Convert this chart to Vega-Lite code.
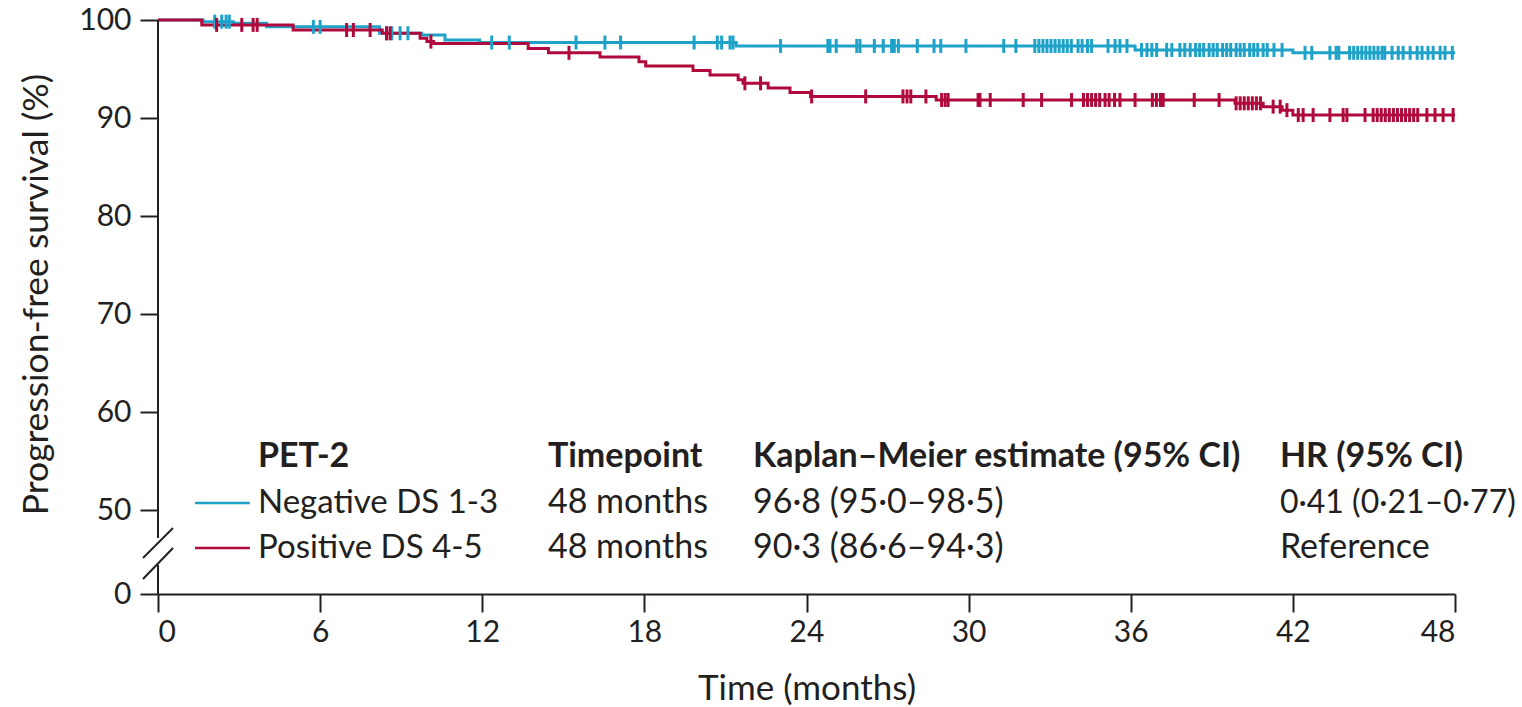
{
  "$schema": "https://vega.github.io/schema/vega-lite/v6.json",
  "autosize": {"type": "none"},
  "padding": {"left": 158, "top": 20, "right": 67, "bottom": 113},
  "width": 1297,
  "height": 574,
  "background": "white",
  "config": {
    "view": {"stroke": null},
    "font": "Lato",
    "text": {"font": "Lato", "color": "#231f20", "fontSize": 34, "align": "left", "baseline": "alphabetic"},
    "axis": {"grid": false, "labelFont": "Lato", "titleFont": "Lato", "labelColor": "#231f20", "titleColor": "#231f20", "tickColor": "#231f20", "domainColor": "#231f20", "tickWidth": 2, "domainWidth": 2}
  },
  "datasets": {
    "curve": [
      {"group": "Negative DS 1-3", "month": 0, "pfs": 100},
      {"group": "Negative DS 1-3", "month": 1.67, "pfs": 99.83},
      {"group": "Negative DS 1-3", "month": 2.79, "pfs": 99.66},
      {"group": "Negative DS 1-3", "month": 4.02, "pfs": 99.3},
      {"group": "Negative DS 1-3", "month": 8.2, "pfs": 98.65},
      {"group": "Negative DS 1-3", "month": 9.76, "pfs": 98.47},
      {"group": "Negative DS 1-3", "month": 10.62, "pfs": 97.96},
      {"group": "Negative DS 1-3", "month": 11.9, "pfs": 97.7},
      {"group": "Negative DS 1-3", "month": 21.4, "pfs": 97.35},
      {"group": "Negative DS 1-3", "month": 36.16, "pfs": 96.94},
      {"group": "Negative DS 1-3", "month": 42.0, "pfs": 96.65},
      {"group": "Negative DS 1-3", "month": 48, "pfs": 96.65},
      {"group": "Positive DS 4-5", "month": 0, "pfs": 100},
      {"group": "Positive DS 4-5", "month": 1.62, "pfs": 99.5},
      {"group": "Positive DS 4-5", "month": 5.0, "pfs": 98.98},
      {"group": "Positive DS 4-5", "month": 8.3, "pfs": 98.64},
      {"group": "Positive DS 4-5", "month": 9.7, "pfs": 98.13},
      {"group": "Positive DS 4-5", "month": 9.95, "pfs": 97.8},
      {"group": "Positive DS 4-5", "month": 10.2, "pfs": 97.6},
      {"group": "Positive DS 4-5", "month": 13.7, "pfs": 97.1},
      {"group": "Positive DS 4-5", "month": 14.45, "pfs": 96.65},
      {"group": "Positive DS 4-5", "month": 16.36, "pfs": 96.22},
      {"group": "Positive DS 4-5", "month": 17.8, "pfs": 95.75},
      {"group": "Positive DS 4-5", "month": 18.05, "pfs": 95.3},
      {"group": "Positive DS 4-5", "month": 19.8, "pfs": 94.85},
      {"group": "Positive DS 4-5", "month": 20.43, "pfs": 94.4},
      {"group": "Positive DS 4-5", "month": 21.47, "pfs": 93.9},
      {"group": "Positive DS 4-5", "month": 21.65, "pfs": 93.54},
      {"group": "Positive DS 4-5", "month": 22.58, "pfs": 93.05},
      {"group": "Positive DS 4-5", "month": 23.39, "pfs": 92.6},
      {"group": "Positive DS 4-5", "month": 24.15, "pfs": 92.2},
      {"group": "Positive DS 4-5", "month": 28.8, "pfs": 91.84},
      {"group": "Positive DS 4-5", "month": 39.86, "pfs": 91.5},
      {"group": "Positive DS 4-5", "month": 40.9, "pfs": 91.16},
      {"group": "Positive DS 4-5", "month": 41.6, "pfs": 90.8},
      {"group": "Positive DS 4-5", "month": 42.0, "pfs": 90.3},
      {"group": "Positive DS 4-5", "month": 48, "pfs": 90.3}
    ],
    "censor": [
      {"group": "Negative DS 1-3", "month": 2.1, "pfs": 99.83},
      {"group": "Negative DS 1-3", "month": 2.36, "pfs": 99.83},
      {"group": "Negative DS 1-3", "month": 2.52, "pfs": 99.83},
      {"group": "Negative DS 1-3", "month": 2.64, "pfs": 99.83},
      {"group": "Negative DS 1-3", "month": 5.75, "pfs": 99.3},
      {"group": "Negative DS 1-3", "month": 6.0, "pfs": 99.3},
      {"group": "Negative DS 1-3", "month": 8.46, "pfs": 98.65},
      {"group": "Negative DS 1-3", "month": 8.65, "pfs": 98.65},
      {"group": "Negative DS 1-3", "month": 8.96, "pfs": 98.65},
      {"group": "Negative DS 1-3", "month": 9.25, "pfs": 98.65},
      {"group": "Negative DS 1-3", "month": 12.35, "pfs": 97.7},
      {"group": "Negative DS 1-3", "month": 13.0, "pfs": 97.7},
      {"group": "Negative DS 1-3", "month": 15.47, "pfs": 97.7},
      {"group": "Negative DS 1-3", "month": 16.54, "pfs": 97.7},
      {"group": "Negative DS 1-3", "month": 17.12, "pfs": 97.7},
      {"group": "Negative DS 1-3", "month": 19.84, "pfs": 97.7},
      {"group": "Negative DS 1-3", "month": 20.7, "pfs": 97.7},
      {"group": "Negative DS 1-3", "month": 20.86, "pfs": 97.7},
      {"group": "Negative DS 1-3", "month": 21.17, "pfs": 97.7},
      {"group": "Negative DS 1-3", "month": 21.28, "pfs": 97.7},
      {"group": "Negative DS 1-3", "month": 23.04, "pfs": 97.35},
      {"group": "Negative DS 1-3", "month": 24.79, "pfs": 97.35},
      {"group": "Negative DS 1-3", "month": 24.87, "pfs": 97.35},
      {"group": "Negative DS 1-3", "month": 25.1, "pfs": 97.35},
      {"group": "Negative DS 1-3", "month": 25.86, "pfs": 97.35},
      {"group": "Negative DS 1-3", "month": 25.98, "pfs": 97.35},
      {"group": "Negative DS 1-3", "month": 26.51, "pfs": 97.35},
      {"group": "Negative DS 1-3", "month": 26.84, "pfs": 97.35},
      {"group": "Negative DS 1-3", "month": 27.15, "pfs": 97.35},
      {"group": "Negative DS 1-3", "month": 27.25, "pfs": 97.35},
      {"group": "Negative DS 1-3", "month": 27.4, "pfs": 97.35},
      {"group": "Negative DS 1-3", "month": 28.1, "pfs": 97.35},
      {"group": "Negative DS 1-3", "month": 28.72, "pfs": 97.35},
      {"group": "Negative DS 1-3", "month": 28.97, "pfs": 97.35},
      {"group": "Negative DS 1-3", "month": 29.9, "pfs": 97.35},
      {"group": "Negative DS 1-3", "month": 31.3, "pfs": 97.35},
      {"group": "Negative DS 1-3", "month": 31.75, "pfs": 97.35},
      {"group": "Negative DS 1-3", "month": 32.45, "pfs": 97.35},
      {"group": "Negative DS 1-3", "month": 32.6, "pfs": 97.35},
      {"group": "Negative DS 1-3", "month": 32.75, "pfs": 97.35},
      {"group": "Negative DS 1-3", "month": 32.9, "pfs": 97.35},
      {"group": "Negative DS 1-3", "month": 33.05, "pfs": 97.35},
      {"group": "Negative DS 1-3", "month": 33.2, "pfs": 97.35},
      {"group": "Negative DS 1-3", "month": 33.35, "pfs": 97.35},
      {"group": "Negative DS 1-3", "month": 33.5, "pfs": 97.35},
      {"group": "Negative DS 1-3", "month": 33.65, "pfs": 97.35},
      {"group": "Negative DS 1-3", "month": 33.8, "pfs": 97.35},
      {"group": "Negative DS 1-3", "month": 34.05, "pfs": 97.35},
      {"group": "Negative DS 1-3", "month": 34.2, "pfs": 97.35},
      {"group": "Negative DS 1-3", "month": 34.4, "pfs": 97.35},
      {"group": "Negative DS 1-3", "month": 34.55, "pfs": 97.35},
      {"group": "Negative DS 1-3", "month": 35.16, "pfs": 97.35},
      {"group": "Negative DS 1-3", "month": 35.42, "pfs": 97.35},
      {"group": "Negative DS 1-3", "month": 35.6, "pfs": 97.35},
      {"group": "Negative DS 1-3", "month": 35.86, "pfs": 97.35},
      {"group": "Negative DS 1-3", "month": 36.4, "pfs": 96.94},
      {"group": "Negative DS 1-3", "month": 36.6, "pfs": 96.94},
      {"group": "Negative DS 1-3", "month": 36.78, "pfs": 96.94},
      {"group": "Negative DS 1-3", "month": 36.96, "pfs": 96.94},
      {"group": "Negative DS 1-3", "month": 37.33, "pfs": 96.94},
      {"group": "Negative DS 1-3", "month": 37.52, "pfs": 96.94},
      {"group": "Negative DS 1-3", "month": 37.82, "pfs": 96.94},
      {"group": "Negative DS 1-3", "month": 38.0, "pfs": 96.94},
      {"group": "Negative DS 1-3", "month": 38.2, "pfs": 96.94},
      {"group": "Negative DS 1-3", "month": 38.4, "pfs": 96.94},
      {"group": "Negative DS 1-3", "month": 38.55, "pfs": 96.94},
      {"group": "Negative DS 1-3", "month": 38.7, "pfs": 96.94},
      {"group": "Negative DS 1-3", "month": 38.9, "pfs": 96.94},
      {"group": "Negative DS 1-3", "month": 39.05, "pfs": 96.94},
      {"group": "Negative DS 1-3", "month": 39.2, "pfs": 96.94},
      {"group": "Negative DS 1-3", "month": 39.4, "pfs": 96.94},
      {"group": "Negative DS 1-3", "month": 39.55, "pfs": 96.94},
      {"group": "Negative DS 1-3", "month": 39.7, "pfs": 96.94},
      {"group": "Negative DS 1-3", "month": 39.9, "pfs": 96.94},
      {"group": "Negative DS 1-3", "month": 40.05, "pfs": 96.94},
      {"group": "Negative DS 1-3", "month": 40.2, "pfs": 96.94},
      {"group": "Negative DS 1-3", "month": 40.4, "pfs": 96.94},
      {"group": "Negative DS 1-3", "month": 40.55, "pfs": 96.94},
      {"group": "Negative DS 1-3", "month": 40.7, "pfs": 96.94},
      {"group": "Negative DS 1-3", "month": 40.9, "pfs": 96.94},
      {"group": "Negative DS 1-3", "month": 41.05, "pfs": 96.94},
      {"group": "Negative DS 1-3", "month": 41.3, "pfs": 96.94},
      {"group": "Negative DS 1-3", "month": 41.6, "pfs": 96.94},
      {"group": "Negative DS 1-3", "month": 42.45, "pfs": 96.65},
      {"group": "Negative DS 1-3", "month": 42.7, "pfs": 96.65},
      {"group": "Negative DS 1-3", "month": 43.37, "pfs": 96.65},
      {"group": "Negative DS 1-3", "month": 43.6, "pfs": 96.65},
      {"group": "Negative DS 1-3", "month": 43.7, "pfs": 96.65},
      {"group": "Negative DS 1-3", "month": 44.1, "pfs": 96.65},
      {"group": "Negative DS 1-3", "month": 44.25, "pfs": 96.65},
      {"group": "Negative DS 1-3", "month": 44.4, "pfs": 96.65},
      {"group": "Negative DS 1-3", "month": 44.55, "pfs": 96.65},
      {"group": "Negative DS 1-3", "month": 44.7, "pfs": 96.65},
      {"group": "Negative DS 1-3", "month": 44.85, "pfs": 96.65},
      {"group": "Negative DS 1-3", "month": 45.0, "pfs": 96.65},
      {"group": "Negative DS 1-3", "month": 45.15, "pfs": 96.65},
      {"group": "Negative DS 1-3", "month": 45.3, "pfs": 96.65},
      {"group": "Negative DS 1-3", "month": 45.4, "pfs": 96.65},
      {"group": "Negative DS 1-3", "month": 45.67, "pfs": 96.65},
      {"group": "Negative DS 1-3", "month": 45.9, "pfs": 96.65},
      {"group": "Negative DS 1-3", "month": 46.08, "pfs": 96.65},
      {"group": "Negative DS 1-3", "month": 46.34, "pfs": 96.65},
      {"group": "Negative DS 1-3", "month": 46.6, "pfs": 96.65},
      {"group": "Negative DS 1-3", "month": 46.78, "pfs": 96.65},
      {"group": "Negative DS 1-3", "month": 47.0, "pfs": 96.65},
      {"group": "Negative DS 1-3", "month": 47.19, "pfs": 96.65},
      {"group": "Negative DS 1-3", "month": 47.45, "pfs": 96.65},
      {"group": "Negative DS 1-3", "month": 47.63, "pfs": 96.65},
      {"group": "Negative DS 1-3", "month": 47.9, "pfs": 96.65},
      {"group": "Positive DS 4-5", "month": 2.17, "pfs": 99.5},
      {"group": "Positive DS 4-5", "month": 3.1, "pfs": 99.5},
      {"group": "Positive DS 4-5", "month": 3.52, "pfs": 99.5},
      {"group": "Positive DS 4-5", "month": 3.67, "pfs": 99.5},
      {"group": "Positive DS 4-5", "month": 6.98, "pfs": 98.98},
      {"group": "Positive DS 4-5", "month": 7.23, "pfs": 98.98},
      {"group": "Positive DS 4-5", "month": 7.85, "pfs": 98.98},
      {"group": "Positive DS 4-5", "month": 8.46, "pfs": 98.64},
      {"group": "Positive DS 4-5", "month": 8.59, "pfs": 98.64},
      {"group": "Positive DS 4-5", "month": 10.1, "pfs": 97.8},
      {"group": "Positive DS 4-5", "month": 15.21, "pfs": 96.65},
      {"group": "Positive DS 4-5", "month": 21.72, "pfs": 93.54},
      {"group": "Positive DS 4-5", "month": 22.3, "pfs": 93.54},
      {"group": "Positive DS 4-5", "month": 24.19, "pfs": 92.2},
      {"group": "Positive DS 4-5", "month": 26.19, "pfs": 92.2},
      {"group": "Positive DS 4-5", "month": 27.57, "pfs": 92.2},
      {"group": "Positive DS 4-5", "month": 27.72, "pfs": 92.2},
      {"group": "Positive DS 4-5", "month": 27.86, "pfs": 92.2},
      {"group": "Positive DS 4-5", "month": 28.42, "pfs": 92.2},
      {"group": "Positive DS 4-5", "month": 29.0, "pfs": 91.84},
      {"group": "Positive DS 4-5", "month": 29.13, "pfs": 91.84},
      {"group": "Positive DS 4-5", "month": 29.24, "pfs": 91.84},
      {"group": "Positive DS 4-5", "month": 30.35, "pfs": 91.84},
      {"group": "Positive DS 4-5", "month": 30.42, "pfs": 91.84},
      {"group": "Positive DS 4-5", "month": 30.8, "pfs": 91.84},
      {"group": "Positive DS 4-5", "month": 32.02, "pfs": 91.84},
      {"group": "Positive DS 4-5", "month": 32.7, "pfs": 91.84},
      {"group": "Positive DS 4-5", "month": 33.81, "pfs": 91.84},
      {"group": "Positive DS 4-5", "month": 34.25, "pfs": 91.84},
      {"group": "Positive DS 4-5", "month": 34.4, "pfs": 91.84},
      {"group": "Positive DS 4-5", "month": 34.55, "pfs": 91.84},
      {"group": "Positive DS 4-5", "month": 34.7, "pfs": 91.84},
      {"group": "Positive DS 4-5", "month": 34.85, "pfs": 91.84},
      {"group": "Positive DS 4-5", "month": 35.05, "pfs": 91.84},
      {"group": "Positive DS 4-5", "month": 35.2, "pfs": 91.84},
      {"group": "Positive DS 4-5", "month": 35.4, "pfs": 91.84},
      {"group": "Positive DS 4-5", "month": 35.6, "pfs": 91.84},
      {"group": "Positive DS 4-5", "month": 36.16, "pfs": 91.84},
      {"group": "Positive DS 4-5", "month": 36.8, "pfs": 91.84},
      {"group": "Positive DS 4-5", "month": 36.95, "pfs": 91.84},
      {"group": "Positive DS 4-5", "month": 37.1, "pfs": 91.84},
      {"group": "Positive DS 4-5", "month": 37.2, "pfs": 91.84},
      {"group": "Positive DS 4-5", "month": 38.35, "pfs": 91.84},
      {"group": "Positive DS 4-5", "month": 39.27, "pfs": 91.84},
      {"group": "Positive DS 4-5", "month": 39.9, "pfs": 91.5},
      {"group": "Positive DS 4-5", "month": 40.05, "pfs": 91.5},
      {"group": "Positive DS 4-5", "month": 40.2, "pfs": 91.5},
      {"group": "Positive DS 4-5", "month": 40.35, "pfs": 91.5},
      {"group": "Positive DS 4-5", "month": 40.5, "pfs": 91.5},
      {"group": "Positive DS 4-5", "month": 40.65, "pfs": 91.5},
      {"group": "Positive DS 4-5", "month": 40.8, "pfs": 91.5},
      {"group": "Positive DS 4-5", "month": 41.27, "pfs": 91.16},
      {"group": "Positive DS 4-5", "month": 41.53, "pfs": 91.16},
      {"group": "Positive DS 4-5", "month": 41.78, "pfs": 90.8},
      {"group": "Positive DS 4-5", "month": 42.2, "pfs": 90.3},
      {"group": "Positive DS 4-5", "month": 42.38, "pfs": 90.3},
      {"group": "Positive DS 4-5", "month": 42.75, "pfs": 90.3},
      {"group": "Positive DS 4-5", "month": 43.37, "pfs": 90.3},
      {"group": "Positive DS 4-5", "month": 43.86, "pfs": 90.3},
      {"group": "Positive DS 4-5", "month": 44.0, "pfs": 90.3},
      {"group": "Positive DS 4-5", "month": 44.67, "pfs": 90.3},
      {"group": "Positive DS 4-5", "month": 44.97, "pfs": 90.3},
      {"group": "Positive DS 4-5", "month": 45.12, "pfs": 90.3},
      {"group": "Positive DS 4-5", "month": 45.27, "pfs": 90.3},
      {"group": "Positive DS 4-5", "month": 45.42, "pfs": 90.3},
      {"group": "Positive DS 4-5", "month": 45.57, "pfs": 90.3},
      {"group": "Positive DS 4-5", "month": 45.72, "pfs": 90.3},
      {"group": "Positive DS 4-5", "month": 45.87, "pfs": 90.3},
      {"group": "Positive DS 4-5", "month": 46.02, "pfs": 90.3},
      {"group": "Positive DS 4-5", "month": 46.17, "pfs": 90.3},
      {"group": "Positive DS 4-5", "month": 46.32, "pfs": 90.3},
      {"group": "Positive DS 4-5", "month": 46.47, "pfs": 90.3},
      {"group": "Positive DS 4-5", "month": 46.62, "pfs": 90.3},
      {"group": "Positive DS 4-5", "month": 46.96, "pfs": 90.3},
      {"group": "Positive DS 4-5", "month": 47.26, "pfs": 90.3},
      {"group": "Positive DS 4-5", "month": 47.56, "pfs": 90.3},
      {"group": "Positive DS 4-5", "month": 47.93, "pfs": 90.3}
    ],
    "one": [{}]
  },
  "layer": [
    {
      "data": {"name": "curve"},
      "mark": {"type": "line", "interpolate": "step-after", "strokeWidth": 3},
      "encoding": {
        "x": {"field": "month", "type": "quantitative", "scale": {"domain": [0, 48], "nice": false, "zero": false},
          "axis": {"values": [0, 6, 12, 18, 24, 30, 36, 42, 48], "title": "Time (months)", "tickSize": 18, "labelPadding": 5, "labelFontSize": 30, "titleFontSize": 35, "titleFontWeight": "normal", "titlePadding": 24}},
        "y": {"field": "pfs", "type": "quantitative", "scale": {"domain": [41.43, 100], "nice": false, "zero": false},
          "axis": {"values": [41.43, 50, 60, 70, 80, 90, 100], "labelExpr": "datum.value < 45 ? '0' : datum.label", "domain": false, "tickSize": 18, "labelPadding": 9, "labelFontSize": 30, "title": "Progression-free survival (%)", "titleFontSize": 35.5, "titleFontWeight": "normal", "titlePadding": 24, "titleY": 274}},
        "color": {"field": "group", "type": "nominal", "scale": {"domain": ["Negative DS 1-3", "Positive DS 4-5"], "range": ["#1fa2c8", "#b00a3c"]}, "legend": null}
      }
    },
    {
      "data": {"name": "censor"},
      "mark": {"type": "tick", "orient": "vertical", "size": 14, "thickness": 3, "opacity": 1},
      "encoding": {
        "x": {"field": "month", "type": "quantitative"},
        "y": {"field": "pfs", "type": "quantitative"},
        "color": {"field": "group", "type": "nominal", "legend": null}
      }
    },
    {
      "data": {"name": "one"},
      "mark": {"type": "rule", "color": "#231f20", "strokeWidth": 2},
      "encoding": {"x": {"datum": 0, "type": "quantitative"}, "y": {"datum": 100, "type": "quantitative"}, "y2": {"datum": 47.14}}
    },
    {
      "data": {"name": "one"},
      "mark": {"type": "rule", "color": "#231f20", "strokeWidth": 2},
      "encoding": {"x": {"datum": 0, "type": "quantitative"}, "y": {"datum": 44.39, "type": "quantitative"}, "y2": {"datum": 41.43}}
    },
    {
      "data": {"name": "one"},
      "mark": {"type": "rule", "color": "#231f20", "strokeWidth": 2},
      "encoding": {"x": {"datum": -0.555, "type": "quantitative"}, "x2": {"datum": 0.555}, "y": {"datum": 45.1, "type": "quantitative"}, "y2": {"datum": 48.16}}
    },
    {
      "data": {"name": "one"},
      "mark": {"type": "rule", "color": "#231f20", "strokeWidth": 2},
      "encoding": {"x": {"datum": -0.555, "type": "quantitative"}, "x2": {"datum": 0.555}, "y": {"datum": 42.96, "type": "quantitative"}, "y2": {"datum": 46.12}}
    },
    {
      "data": {"name": "one"},
      "mark": {"type": "rule", "color": "#1fa2c8", "strokeWidth": 2.6},
      "encoding": {"x": {"datum": 1.37, "type": "quantitative"}, "x2": {"datum": 3.4}, "y": {"datum": 50.71, "type": "quantitative"}}
    },
    {
      "data": {"name": "one"},
      "mark": {"type": "rule", "color": "#b00a3c", "strokeWidth": 2.6},
      "encoding": {"x": {"datum": 1.37, "type": "quantitative"}, "x2": {"datum": 3.4}, "y": {"datum": 46.12, "type": "quantitative"}}
    },
    {"data": {"values": [{"t": "PET-2"}]}, "mark": {"type": "text", "fontWeight": "bold"}, "encoding": {"x": {"datum": 3.7, "type": "quantitative"}, "y": {"datum": 54.39, "type": "quantitative"}, "text": {"field": "t"}}},
    {"data": {"values": [{"t": "Timepoint"}]}, "mark": {"type": "text", "fontWeight": "bold"}, "encoding": {"x": {"datum": 14.43, "type": "quantitative"}, "y": {"datum": 54.39, "type": "quantitative"}, "text": {"field": "t"}}},
    {"data": {"values": [{"t": "Kaplan–Meier estimate (95% CI)"}]}, "mark": {"type": "text", "fontWeight": "bold"}, "encoding": {"x": {"datum": 22.02, "type": "quantitative"}, "y": {"datum": 54.39, "type": "quantitative"}, "text": {"field": "t"}}},
    {"data": {"values": [{"t": "HR (95% CI)"}]}, "mark": {"type": "text", "fontWeight": "bold"}, "encoding": {"x": {"datum": 41.52, "type": "quantitative"}, "y": {"datum": 54.39, "type": "quantitative"}, "text": {"field": "t"}}},
    {"data": {"values": [{"t": "Negative DS 1-3"}]}, "mark": {"type": "text", "fontSize": 33}, "encoding": {"x": {"datum": 3.7, "type": "quantitative"}, "y": {"datum": 49.69, "type": "quantitative"}, "text": {"field": "t"}}},
    {"data": {"values": [{"t": "48 months"}]}, "mark": {"type": "text"}, "encoding": {"x": {"datum": 14.43, "type": "quantitative"}, "y": {"datum": 49.69, "type": "quantitative"}, "text": {"field": "t"}}},
    {"data": {"values": [{"t": "96·8 (95·0–98·5)"}]}, "mark": {"type": "text"}, "encoding": {"x": {"datum": 22.02, "type": "quantitative"}, "y": {"datum": 49.69, "type": "quantitative"}, "text": {"field": "t"}}},
    {"data": {"values": [{"t": "0·41 (0·21–0·77)"}]}, "mark": {"type": "text", "fontSize": 32}, "encoding": {"x": {"datum": 41.52, "type": "quantitative"}, "y": {"datum": 49.69, "type": "quantitative"}, "text": {"field": "t"}}},
    {"data": {"values": [{"t": "Positive DS 4-5"}]}, "mark": {"type": "text", "fontSize": 33}, "encoding": {"x": {"datum": 3.7, "type": "quantitative"}, "y": {"datum": 45.1, "type": "quantitative"}, "text": {"field": "t"}}},
    {"data": {"values": [{"t": "48 months"}]}, "mark": {"type": "text"}, "encoding": {"x": {"datum": 14.43, "type": "quantitative"}, "y": {"datum": 45.1, "type": "quantitative"}, "text": {"field": "t"}}},
    {"data": {"values": [{"t": "90·3 (86·6–94·3)"}]}, "mark": {"type": "text"}, "encoding": {"x": {"datum": 22.02, "type": "quantitative"}, "y": {"datum": 45.1, "type": "quantitative"}, "text": {"field": "t"}}},
    {"data": {"values": [{"t": "Reference"}]}, "mark": {"type": "text"}, "encoding": {"x": {"datum": 41.52, "type": "quantitative"}, "y": {"datum": 45.1, "type": "quantitative"}, "text": {"field": "t"}}}
  ]
}
